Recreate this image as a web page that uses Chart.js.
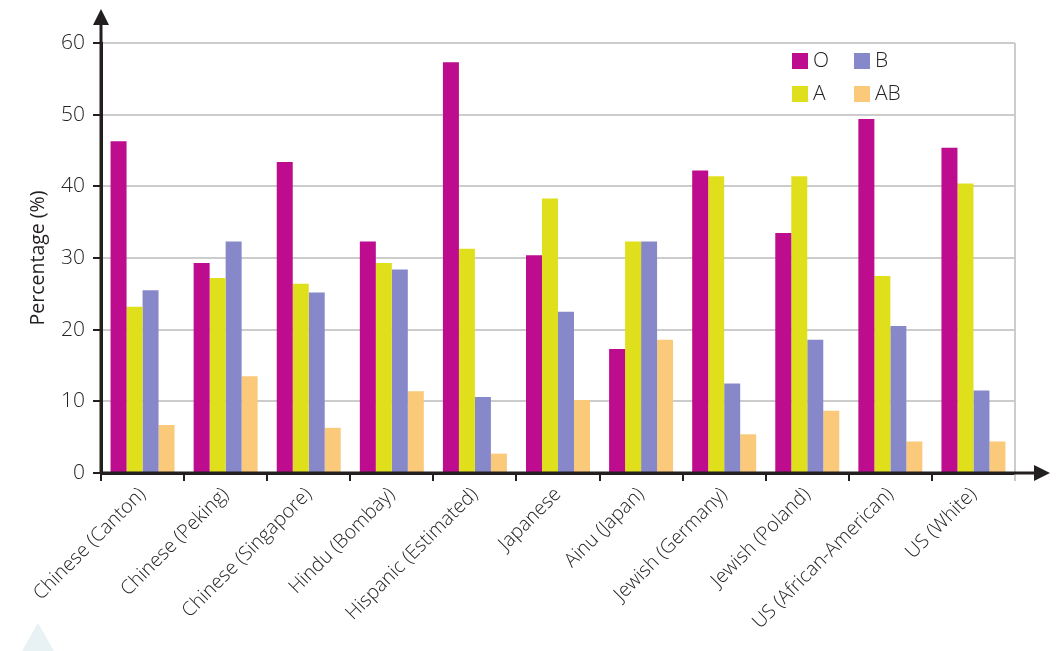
<!DOCTYPE html>
<html>
<head>
<meta charset="utf-8">
<script src="https://cdn.jsdelivr.net/npm/chart.js@4/dist/chart.umd.min.js"></script>
<style>
  html, body { margin: 0; padding: 0; background: #fff; }
  #wrap { width: 1060px; height: 651px; position: relative; }
</style>
</head>
<body>
<div id="wrap"><canvas id="chart" width="1060" height="651"></canvas></div>
<script>
// categorias
const groups = [
  "Chinese (Canton)", "Chinese (Peking)", "Chinese (Singapore)", "Hindu (Bombay)",
  "Hispanic (Estimated)", "Japanese", "Ainu (Japan)", "Jewish (Germany)",
  "Jewish (Poland)", "US (African-American)", "US (White)"
];
// tipos sanguíneos (%)
const typeO  = [46.3, 29.3, 43.4, 32.3, 57.3, 30.4, 17.3, 42.2, 33.5, 49.4, 45.4];
const typeA  = [23.2, 27.2, 26.4, 29.3, 31.3, 38.3, 32.3, 41.4, 41.4, 27.5, 40.4];
const typeB  = [25.5, 32.3, 25.2, 28.4, 10.6, 22.5, 32.3, 12.5, 18.6, 20.5, 11.5];
const typeAB = [6.7, 13.5, 6.3, 11.4, 2.7, 10.2, 18.6, 5.4, 8.7, 4.4, 4.4];
const yTicks = [0, 10, 20, 30, 40, 50, 60];

const FONT = "'Open Sans', 'Noto Sans', sans-serif";
const INK = "#231f20";
const TXT = "#262324";

// legenda 2x2 (O B / A AB) + setas dos eixos
const extras = {
  id: "extras",
  afterDraw(chart) {
    const ctx = chart.ctx;
    const a = chart.chartArea;
    ctx.save();
    // borda direita cinza
    ctx.strokeStyle = "#cccccc"; ctx.lineWidth = 2;
    ctx.beginPath(); ctx.moveTo(a.right, a.top); ctx.lineTo(a.right, a.bottom + 8); ctx.stroke();
    // eixos com seta
    ctx.strokeStyle = INK; ctx.fillStyle = INK; ctx.lineWidth = 3;
    ctx.beginPath(); ctx.moveTo(a.left, a.bottom); ctx.lineTo(a.left, 22); ctx.stroke();
    ctx.beginPath(); ctx.moveTo(a.left - 8, 25); ctx.lineTo(a.left + 8, 25); ctx.lineTo(a.left, 9); ctx.closePath(); ctx.fill();
    ctx.beginPath(); ctx.moveTo(a.left, a.bottom); ctx.lineTo(1036, a.bottom); ctx.stroke();
    ctx.beginPath(); ctx.moveTo(1034, a.bottom - 8); ctx.lineTo(1034, a.bottom + 8); ctx.lineTo(1050, a.bottom); ctx.closePath(); ctx.fill();
    // legenda
    const ds = chart.data.datasets;
    const order = [[0, 792, 53], [2, 854, 53], [1, 792, 86], [3, 854, 86]];
    ctx.font = "300 21px " + FONT; ctx.textBaseline = "middle"; ctx.textAlign = "left";
    order.forEach(([i, x, y]) => {
      ctx.fillStyle = ds[i].backgroundColor;
      ctx.fillRect(x, y, 16, 16);
      ctx.fillStyle = TXT;
      ctx.fillText(ds[i].label, x + 21, y + 8);
    });
    // triângulo claro no canto
    ctx.fillStyle = "#e8f1f4";
    ctx.beginPath(); ctx.moveTo(22, 651); ctx.lineTo(38, 623); ctx.lineTo(54, 651); ctx.closePath(); ctx.fill();
    ctx.restore();
  }
};

new Chart(document.getElementById("chart").getContext("2d"), {
  type: "bar",
  data: {
    labels: groups,
    datasets: [
      { label: "O",  data: typeO,  backgroundColor: "#bd0c8d" },
      { label: "A",  data: typeA,  backgroundColor: "#e0df1b" },
      { label: "B",  data: typeB,  backgroundColor: "#8788ca" },
      { label: "AB", data: typeAB, backgroundColor: "#fac97a" }
    ]
  },
  options: {
    responsive: false,
    animation: false,
    layout: { padding: { top: 43, right: 45, left: 0, bottom: 0 } },
    datasets: { bar: { categoryPercentage: 0.77, barPercentage: 1.0 } },
    plugins: { legend: { display: false }, tooltip: { enabled: false } },
    scales: {
      x: {
        afterFit: (s) => { s.height = 178; },
        grid: { drawOnChartArea: false, drawTicks: true, tickLength: 8, tickColor: INK, lineWidth: 2 },
        border: { display: true, color: INK, width: 3 },
        ticks: { minRotation: 45, maxRotation: 45, padding: 2, color: TXT, font: { family: FONT, size: 19.5, weight: 300 } }
      },
      y: {
        min: 0, max: 60,
        afterFit: (s) => { s.width = 101; },
        afterBuildTicks: (s) => { s.ticks = yTicks.map(v => ({ value: v })); },
        grid: { color: "#cccccc", lineWidth: 2, tickLength: 8, tickColor: INK, drawTicks: true },
        border: { display: true, color: INK, width: 3 },
        ticks: { padding: 8, color: TXT, font: { family: FONT, size: 21, weight: 300 } },
        title: { display: true, text: "Percentage (%)", color: INK, padding: { top: 27, bottom: 0 }, font: { family: FONT, size: 19.5 } }
      }
    }
  },
  plugins: [extras]
});
</script>
</body>
</html>
